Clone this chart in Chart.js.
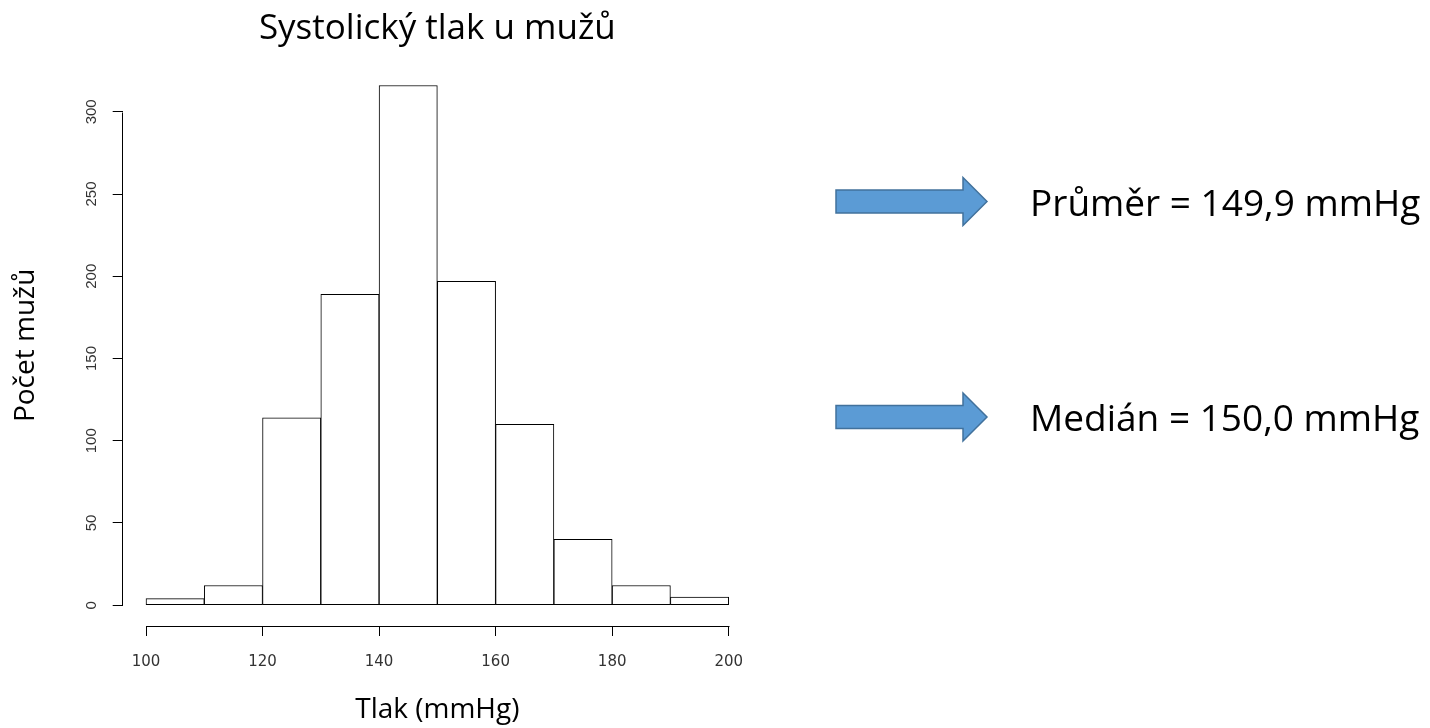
<!DOCTYPE html>
<html>
<head>
<meta charset="utf-8">
<script src="https://cdn.jsdelivr.net/npm/chart.js@4"></script>
<style>
    body { margin: 0; background: #fff; }
    #wrap { position: absolute; left: 0; top: 0; width: 865px; height: 728px; }
    #side { position: absolute; left: 0; top: 0; }
</style>
</head>
<body>
<div id="wrap"><canvas id="histChart"></canvas></div>
<svg id="side" width="1430" height="728" xmlns="http://www.w3.org/2000/svg">
    <defs>
        <polygon id="arrow" points="836,190 963,190 963,177.5 987,201.5 963,225.5 963,213 836,213"
                 fill="#5B9BD5" stroke="#41719C" stroke-width="1.5" stroke-linejoin="miter"/>
    </defs>
    <use href="#arrow"/>
    <use href="#arrow" y="215.5"/>
    <text x="1030" y="215.5" font-family="Open Sans" font-size="37" fill="#000">Průměr = 149,9 mmHg</text>
    <text x="1030" y="431" font-family="Open Sans" font-size="37" fill="#000">Medián = 150,0 mmHg</text>
</svg>
<script>
// histogram bins (mmHg) and counts
const binMids = [105, 115, 125, 135, 145, 155, 165, 175, 185, 195];
const counts = [4, 12, 114, 189, 316, 197, 110, 40, 12, 5];
const xTickStep = 20;
const yTickStep = 50;

// R style axes: the line only spans first..last tick
const axisLines = {
    id: 'axisLines',
    afterDraw(chart) {
        const { ctx, scales: { x, y } } = chart;
        const xt = x.ticks;
        const yt = y.ticks;
        ctx.save();
        ctx.strokeStyle = '#000';
        ctx.lineWidth = 1;
        ctx.beginPath();
        ctx.moveTo(Math.round(x.getPixelForValue(xt[0].value)) + 0.5, Math.round(x.top) + 0.5);
        ctx.lineTo(Math.round(x.getPixelForValue(xt[xt.length - 1].value)) + 0.5, Math.round(x.top) + 0.5);
        ctx.moveTo(Math.round(y.right) - 0.5, Math.round(y.getPixelForValue(yt[0].value)) + 0.5);
        ctx.lineTo(Math.round(y.right) - 0.5, Math.round(y.getPixelForValue(yt[yt.length - 1].value)) + 0.5);
        ctx.stroke();
        ctx.restore();
    },
};

new Chart(document.getElementById('histChart'), {
    type: 'bar',
    data: {
        datasets: [{
            data: binMids.map((m, i) => ({ x: m, y: counts[i] })),
            backgroundColor: '#fff',
            borderColor: '#000',
            borderWidth: 1,
            borderSkipped: false,
            barPercentage: 1,
            categoryPercentage: 1,
        }],
    },
    options: {
        responsive: true,
        maintainAspectRatio: false,
        devicePixelRatio: 1,
        animation: false,
        layout: { padding: { left: 0, right: 113, top: 0, bottom: 0 } },
        plugins: {
            legend: { display: false },
            tooltip: { enabled: false },
            title: {
                display: true,
                fullSize: false,
                text: 'Systolický tlak u mužů',
                color: '#000',
                font: { family: 'Open Sans', size: 35, weight: 'normal' },
                padding: { top: 8, bottom: 14.7 },
            },
        },
        scales: {
            x: {
                type: 'linear',
                min: 96,
                max: 204,
                offset: false,
                ticks: {
                    stepSize: xTickStep,
                    includeBounds: false,
                    color: '#333',
                    padding: 17.5,
                    maxRotation: 0,
                    font: { family: 'DejaVu Sans', size: 15 },
                },
                grid: { offset: false, drawOnChartArea: false, drawTicks: true, tickLength: 10, color: '#000' },
                border: { display: false },
                title: {
                    display: true,
                    text: 'Tlak (mmHg)',
                    color: '#000',
                    font: { family: 'Open Sans', size: 28 },
                    padding: { top: 0, bottom: 1 },
                },
                afterFit(scale) { scale.height = 102; },
            },
            y: {
                type: 'linear',
                min: -12.64,
                max: 328.64,
                ticks: {
                    stepSize: yTickStep,
                    includeBounds: false,
                    minRotation: 90,
                    maxRotation: 90,
                    crossAlign: 'center',
                    padding: 8,
                    color: '#333',
                    font: { family: 'Liberation Sans', size: 15 },
                },
                grid: { drawOnChartArea: false, drawTicks: true, tickLength: 10, color: '#000' },
                border: { display: false },
                title: {
                    display: true,
                    text: 'Počet mužů',
                    color: '#000',
                    font: { family: 'Open Sans', size: 28 },
                    padding: { top: 9, bottom: 0 },
                },
                afterFit(scale) { scale.width = 122.7; },
            },
        },
    },
    plugins: [axisLines],
});
</script>
</body>
</html>
